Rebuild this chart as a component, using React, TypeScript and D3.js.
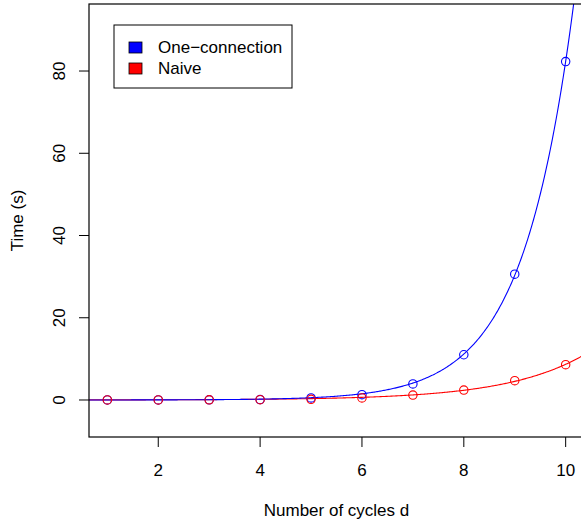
import React from "react";
import * as d3 from "d3";

const cycles = [1, 2, 3, 4, 5, 6, 7, 8, 9, 10];
const oneConnection = [0.01, 0.02, 0.03, 0.1, 0.5, 1.3, 3.9, 11.0, 30.6, 82.3];
const naive = [0.01, 0.02, 0.04, 0.08, 0.15, 0.5, 1.2, 2.4, 4.7, 8.6];
const xTicks = [2, 4, 6, 8, 10];
const yTicks = [0, 20, 40, 60, 80];
const seriesNames = ["One\u2212connection", "Naive"];
const seriesColors = ["#0000FF", "#FF0000"];

// Nonlinear least squares fit of y = a * exp(b * x) (Gauss-Newton)
function fitExp(xs: number[], ys: number[]) {
  const n = xs.length;
  const i1 = n - 1, i2 = n - 2;
  let b = Math.log(ys[i1] / ys[i2]) / (xs[i1] - xs[i2]);
  let a = ys[i1] / Math.exp(b * xs[i1]);
  for (let it = 0; it < 100; it++) {
    let jaa = 0, jab = 0, jbb = 0, ga = 0, gb = 0;
    for (let i = 0; i < n; i++) {
      const e = Math.exp(b * xs[i]);
      const r = ys[i] - a * e;
      const da = e, db = a * xs[i] * e;
      jaa += da * da; jab += da * db; jbb += db * db;
      ga += da * r; gb += db * r;
    }
    const det = jaa * jbb - jab * jab;
    if (Math.abs(det) < 1e-300) break;
    const sa = (jbb * ga - jab * gb) / det;
    const sb = (jaa * gb - jab * ga) / det;
    a += sa; b += sb;
    if (Math.abs(sa) < 1e-12 && Math.abs(sb) < 1e-12) break;
  }
  return { a, b };
}

export default function App() {
  const W = 581, H = 525;
  const left = 89, right = 584, top = 4, bottom = 437;
  const x = d3.scaleLinear().domain([0.64, 10.36]).range([left, right]);
  const y = d3.scaleLinear().domain([-9.0, 96.3]).range([bottom, top]);
  const font = "'Liberation Sans', Arial, Helvetica, sans-serif";
  const fs = 17;

  const series = [oneConnection, naive];
  const fits = series.map((s) => fitExp(cycles, s));
  const grid = d3.range(0, 501).map((i) => 0.64 + (i / 500) * (10.36 - 0.64));
  const line = d3
    .line<[number, number]>()
    .x((d) => x(d[0]))
    .y((d) => y(d[1]));
  const curveOrder = [1, 0];

  return (
    <svg
      width={W}
      height={H}
      style={{ position: "absolute", left: 0, top: 0, background: "#fff" }}
      fontFamily={font}
    >
      <defs>
        <clipPath id="plotclip">
          <rect x={left} y={top} width={right - left} height={bottom - top} />
        </clipPath>
      </defs>
      <rect x={0} y={0} width={W} height={H} fill="#fff" />
      <g clipPath="url(#plotclip)">
        {curveOrder.map((k) => (
          <path
            key={"fit" + k}
            d={line(grid.map((g) => [g, fits[k].a * Math.exp(fits[k].b * g)] as [number, number])) || ""}
            fill="none"
            stroke={seriesColors[k]}
            strokeWidth={1.1}
          />
        ))}
        {series.map((s, k) =>
          s.map((v, i) => (
            <circle
              key={"p" + k + "-" + i}
              cx={x(cycles[i])}
              cy={y(v)}
              r={4.2}
              fill="none"
              stroke={seriesColors[k]}
              strokeWidth={1.1}
            />
          ))
        )}
      </g>
      {/* box */}
      <rect
        x={left}
        y={top}
        width={right - left}
        height={bottom - top}
        fill="none"
        stroke="#000"
        strokeWidth={1.2}
      />
      {/* x axis */}
      {xTicks.map((t) => (
        <g key={"xt" + t}>
          <line x1={x(t)} x2={x(t)} y1={bottom} y2={bottom + 10} stroke="#000" strokeWidth={1} />
          <text x={x(t)} y={476} fontSize={fs} textAnchor="middle" fill="#000">
            {t}
          </text>
        </g>
      ))}
      {/* y axis */}
      {yTicks.map((t) => (
        <g key={"yt" + t}>
          <line x1={left - 10} x2={left} y1={y(t)} y2={y(t)} stroke="#000" strokeWidth={1} />
          <text
            transform={`translate(65,${y(t)}) rotate(-90)`}
            fontSize={fs}
            textAnchor="middle"
            fill="#000"
          >
            {t}
          </text>
        </g>
      ))}
      <text x={(left + right) / 2} y={516} fontSize={fs} textAnchor="middle" fill="#000">
        Number of cycles d
      </text>
      <text
        transform={`translate(23,${(top + bottom) / 2}) rotate(-90)`}
        fontSize={fs}
        textAnchor="middle"
        fill="#000"
      >
        Time (s)
      </text>
      {/* legend */}
      <rect x={114} y={25} width={178} height={63} fill="#fff" stroke="#000" strokeWidth={1} />
      {seriesNames.map((name, k) => (
        <g key={"lg" + k}>
          <rect
            x={129}
            y={42 + k * 21}
            width={13}
            height={11}
            fill={seriesColors[k]}
            stroke="#000"
            strokeWidth={0.8}
          />
          <text x={158} y={53 + k * 21} fontSize={fs} fill="#000">
            {name}
          </text>
        </g>
      ))}
    </svg>
  );
}
